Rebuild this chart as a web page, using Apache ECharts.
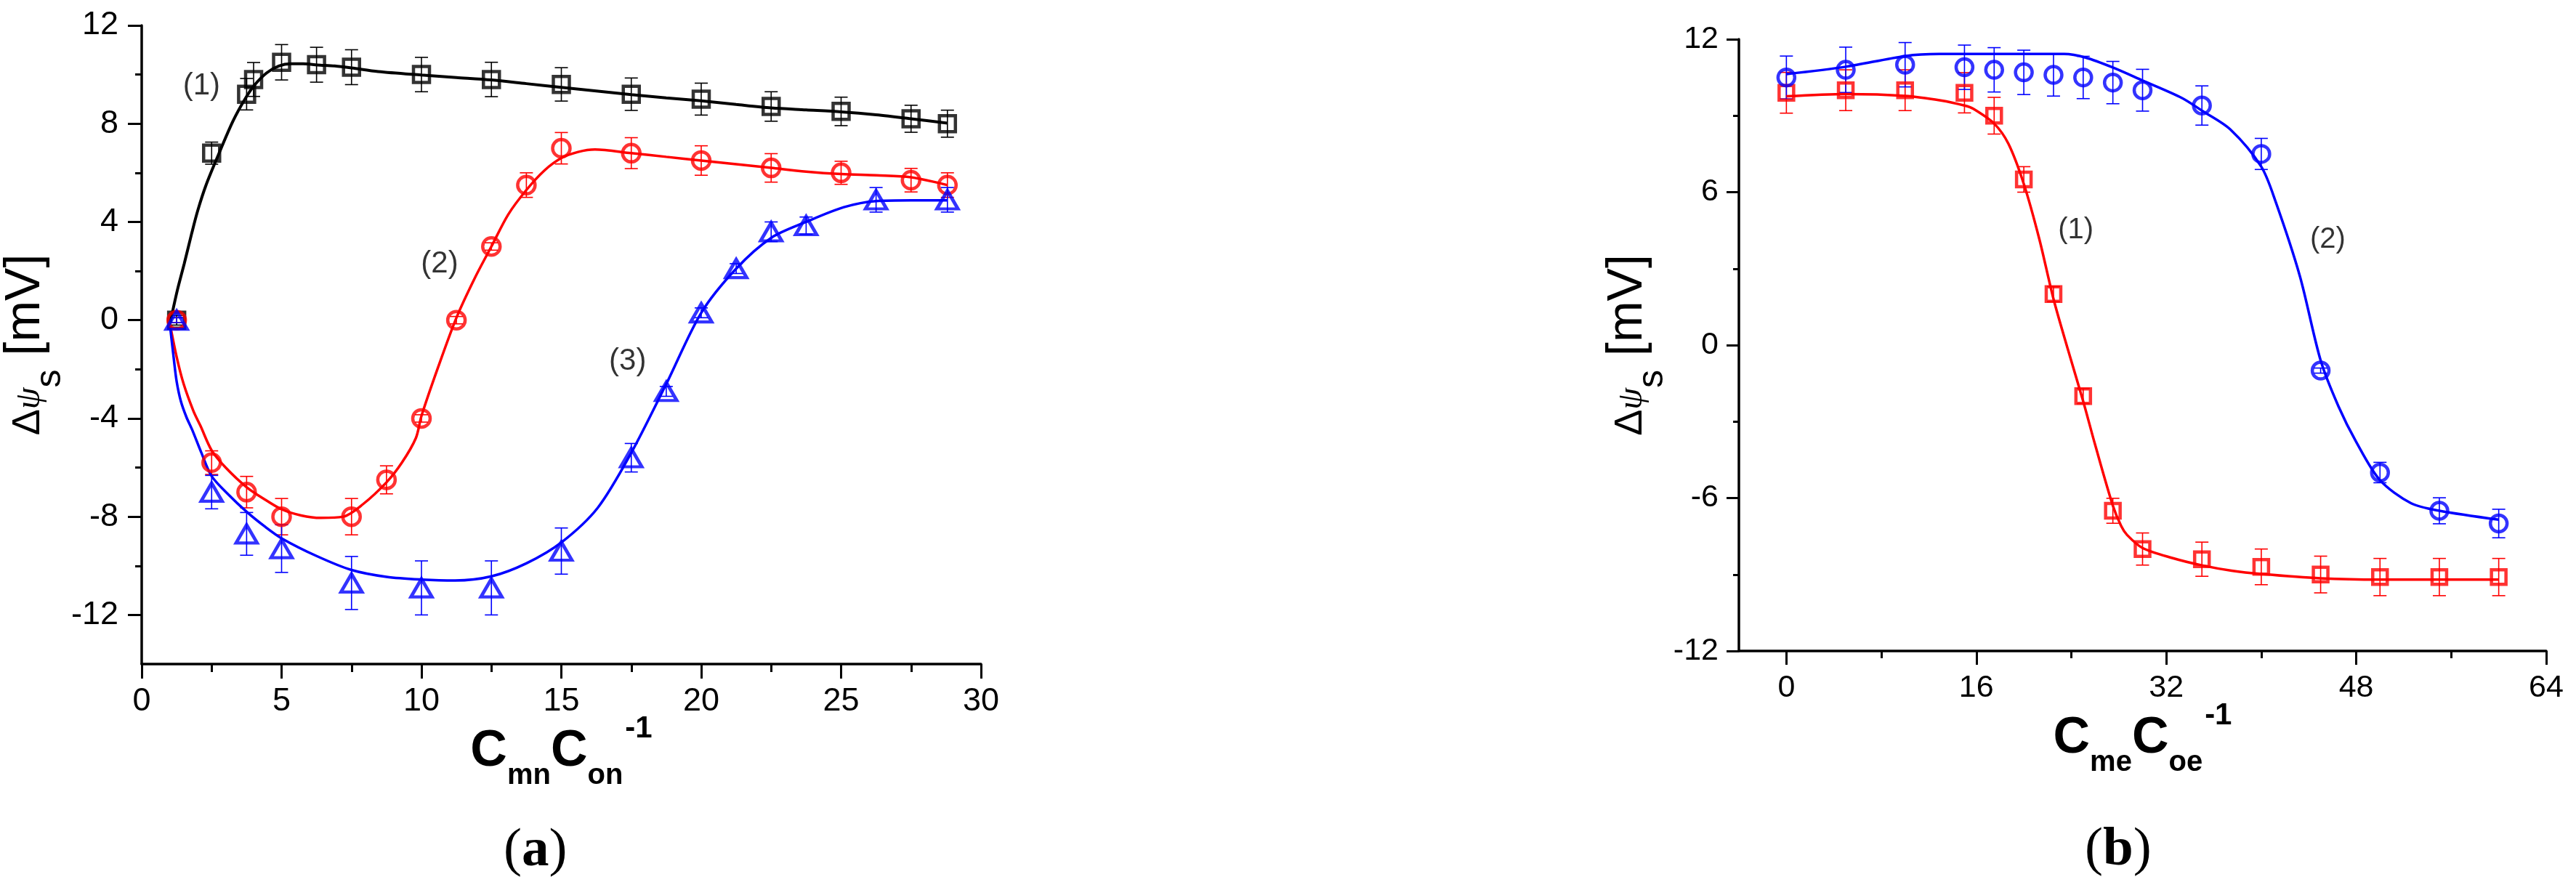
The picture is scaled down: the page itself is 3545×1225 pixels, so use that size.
<!DOCTYPE html>
<html>
<head>
<meta charset="utf-8">
<script src="https://cdn.jsdelivr.net/npm/echarts@6/dist/echarts.min.js"></script>
<style>
  html, body { margin: 0; padding: 0; background: #fff; }
  #chart { width: 3545px; height: 1225px; }
</style>
</head>
<body>
<div id="chart"></div>
<script>
// ---------- panel (a) : measured points ----------
const aX1 = [1.25, 2.5, 3.75, 4.0, 5.0, 6.25, 7.5, 10, 12.5, 15, 17.5, 20, 22.5, 25, 27.5, 28.8];
const aY1 = [0, 6.8, 9.2, 9.8, 10.5, 10.4, 10.3, 10.0, 9.8, 9.6, 9.2, 9.0, 8.7, 8.5, 8.2, 8.0];
const aE1 = [0.2, 0.45, 0.64, 0.69, 0.72, 0.71, 0.71, 0.7, 0.7, 0.68, 0.66, 0.65, 0.6, 0.58, 0.55, 0.55];

const aX2 = [1.25, 2.5, 3.75, 5.0, 7.5, 8.75, 10, 11.25, 12.5, 13.75, 15, 17.5, 20, 22.5, 25, 27.5, 28.8];
const aY2 = [0, -5.8, -7.0, -8.0, -8.0, -6.5, -4.0, 0, 3.0, 5.5, 7.0, 6.8, 6.5, 6.2, 6.0, 5.7, 5.5];
const aE2 = [0.1, 0.48, 0.64, 0.74, 0.74, 0.57, 0.15, 0.15, 0.15, 0.5, 0.64, 0.63, 0.6, 0.58, 0.47, 0.48, 0.5];

const aX3 = [1.25, 2.5, 3.75, 5.0, 7.5, 10, 12.5, 15, 17.5, 18.75, 20, 21.25, 22.5, 23.75, 26.25, 28.8];
const aY3 = [0, -7.0, -8.7, -9.3, -10.7, -10.9, -10.9, -9.4, -5.6, -2.9, 0.3, 2.1, 3.6, 3.85, 4.9, 4.9];
const aE3 = [0.1, 0.68, 0.87, 0.97, 1.08, 1.1, 1.1, 0.94, 0.58, 0.2, 0.2, 0.2, 0.4, 0.35, 0.5, 0.5];

// panel (a) : fitted curves
const aFitX1 = [1.0, 1.27, 1.52, 1.78, 2.0, 2.3, 2.74, 3.26, 3.69, 4.04, 4.47, 4.9, 5.33, 5.77, 6.29, 6.9, 7.5, 8.45, 10, 11.25, 12.5, 13.75, 15, 16.25, 17.5, 18.75, 20, 21.25, 22.5, 23.75, 25, 26.25, 27.5, 28.8];
const aFitY1 = [-0.2, 1.2, 2.3, 3.5, 4.45, 5.5, 6.73, 8.1, 9.0, 9.58, 10.07, 10.35, 10.44, 10.44, 10.39, 10.35, 10.27, 10.12, 9.98, 9.88, 9.78, 9.63, 9.48, 9.33, 9.18, 9.05, 8.93, 8.78, 8.64, 8.56, 8.48, 8.36, 8.2, 8.02];

const aFitX2 = [1.0, 1.25, 1.5, 1.85, 2.1, 2.5, 3.0, 3.75, 4.4, 5.0, 5.7, 6.4, 7.2, 7.9, 8.75, 9.3, 9.8, 10.0, 10.6, 11.25, 11.9, 12.5, 13.1, 13.75, 14.4, 15.0, 15.6, 16.2, 17.5, 18.75, 20, 21.25, 22.5, 23.75, 25, 26.25, 27.5, 28.8];
const aFitY2 = [-0.1, -1.5, -2.6, -3.7, -4.3, -5.3, -6.0, -6.8, -7.3, -7.7, -7.95, -8.05, -8.0, -7.5, -6.6, -5.8, -4.8, -3.9, -1.9, 0.1, 1.7, 3.0, 4.3, 5.3, 6.1, 6.6, 6.85, 6.95, 6.8, 6.65, 6.5, 6.35, 6.2, 6.05, 5.95, 5.9, 5.82, 5.5];

const aFitX3 = [1.0, 1.15, 1.25, 1.4, 1.6, 1.8, 2.13, 2.5, 3.1, 3.75, 4.4, 5.0, 6.25, 7.5, 8.75, 10, 11.2, 12.5, 13.75, 15, 16.3, 17.5, 18.75, 20, 21.25, 22.5, 23.75, 25.1, 26.25, 27.5, 28.8];
const aFitY3 = [-0.1, -1.6, -2.5, -3.3, -3.95, -4.45, -5.39, -6.35, -7.1, -7.8, -8.4, -8.88, -9.6, -10.17, -10.45, -10.56, -10.6, -10.43, -9.9, -9.05, -7.64, -5.4, -2.6, 0.3, 2.1, 3.35, 4.0, 4.6, 4.85, 4.88, 4.88];

// ---------- panel (b) ----------
const bX1 = [0, 5, 10, 15, 17.5, 20, 22.5, 25, 27.5, 30, 35, 40, 45, 50, 55, 60];
const bY1 = [9.9, 10.0, 10.0, 9.9, 9.0, 6.5, 2.0, -2.0, -6.5, -8.0, -8.4, -8.7, -9.0, -9.1, -9.1, -9.1];
const bE1 = [0.8, 0.8, 0.8, 0.79, 0.72, 0.5, 0.3, 0.3, 0.49, 0.63, 0.67, 0.7, 0.72, 0.73, 0.73, 0.73];

const bX2 = [0, 5, 10, 15, 17.5, 20, 22.5, 25, 27.5, 30, 35, 40, 45, 50, 55, 60];
const bY2 = [10.5, 10.8, 11.0, 10.9, 10.8, 10.7, 10.6, 10.5, 10.3, 10.0, 9.4, 7.5, -1.0, -5.0, -6.5, -7.0];
const bE2 = [0.84, 0.89, 0.87, 0.87, 0.87, 0.87, 0.83, 0.83, 0.83, 0.82, 0.77, 0.61, 0.1, 0.4, 0.51, 0.56];

const bFitX1 = [0, 5, 10, 13, 15, 15.75, 17.5, 18.7, 20, 21.3, 22.5, 23.7, 25, 26, 27.5, 28.2, 28.7, 30, 32.5, 35, 37.5, 40, 45, 50, 55, 60];
const bFitY1 = [9.76, 9.85, 9.78, 9.6, 9.4, 9.27, 8.69, 7.9, 6.32, 4.17, 1.81, -0.15, -2.2, -3.9, -6.3, -7.1, -7.45, -7.96, -8.35, -8.64, -8.85, -8.98, -9.15, -9.2, -9.2, -9.2];

const bFitX2 = [0, 5, 10, 12.9, 15.9, 20, 23.4, 25.2, 27.5, 30, 33.3, 35, 37.4, 40, 41.2, 43.25, 45, 46.5, 48, 50, 52.6, 55, 60];
const bFitY2 = [10.63, 10.92, 11.34, 11.42, 11.42, 11.42, 11.42, 11.28, 10.89, 10.38, 9.7, 9.2, 8.46, 7.0, 5.64, 2.71, -0.6, -2.4, -3.8, -5.3, -6.2, -6.5, -6.85];

// ---------- ticks and curve labels ----------
const aXRange = [0, 30];
const aYRange = [-14, 12];
const aYLabels = [-12, -8, -4, 0, 4, 8, 12];
const aYMinor = [-10, -6, -2, 2, 6, 10];
const bXRange = [-4, 64];
const bYRange = [-12, 12];
const bXLabels = [0, 16, 32, 48, 64];
const bXMinor = [8, 24, 40, 56];

const aTagX = [2.14, 10.65, 17.37];
const aTagY = [9.52, 2.28, -1.68];
const aTagText = ['(1)', '(2)', '(3)'];
const bTagX = [24.38, 45.6];
const bTagY = [4.51, 4.12];
const bTagText = ['(1)', '(2)'];

const SANS = '"Liberation Sans", Arial, sans-serif';
const SERIF = '"Liberation Serif", "Times New Roman", serif';
const RED = '#ff0000';
const BLUE = '#0000ff';
const BLACK = '#000000';

const zip = (xs, ys) => xs.map((x, i) => [x, ys[i]]);
const zip3 = (xs, ys, es) => xs.map((x, i) => [x, ys[i], es[i]]);

// sub/superscripts are shifted with asymmetric padding (token stays centred in the line)
function xName() {
  return {
    rich: {
      c: { fontFamily: SANS, fontSize: 70, fontWeight: 'bold', color: BLACK },
      s: { fontFamily: SANS, fontSize: 40, fontWeight: 'bold', color: BLACK, padding: [66, 0, 0, 0] },
      p: { fontFamily: SANS, fontSize: 42, fontWeight: 'bold', color: BLACK, padding: [0, 0, 64, 3] }
    }
  };
}

function yName() {
  return {
    rich: {
      d: { fontFamily: SANS, fontSize: 54, color: BLACK, padding: [9, 0, 0, 0] },
      g: { fontFamily: SERIF, fontSize: 48, fontStyle: 'italic', color: BLACK, padding: [13, 0, 0, 0] },
      s: { fontFamily: SANS, fontSize: 50, color: BLACK, padding: [68, 0, 0, 0] },
      m: { fontFamily: SANS, fontSize: 68, color: BLACK }
    }
  };
}

function errorBars(xs, ys, es, color, xi) {
  return {
    type: 'custom',
    xAxisIndex: xi,
    yAxisIndex: xi,
    z: 2,
    silent: true,
    encode: { x: 0, y: 1 },
    data: zip3(xs, ys, es),
    renderItem: function (params, api) {
      const x = api.value(0);
      const y = api.value(1);
      const e = api.value(2);
      const hi = api.coord([x, y + e]);
      const lo = api.coord([x, y - e]);
      const w = 9;
      const style = { stroke: color, lineWidth: 1.6 };
      return {
        type: 'group',
        children: [
          { type: 'line', shape: { x1: hi[0], y1: hi[1], x2: lo[0], y2: lo[1] }, style: style },
          { type: 'line', shape: { x1: hi[0] - w, y1: hi[1], x2: hi[0] + w, y2: hi[1] }, style: style },
          { type: 'line', shape: { x1: lo[0] - w, y1: lo[1], x2: lo[0] + w, y2: lo[1] }, style: style }
        ]
      };
    }
  };
}

function markers(xs, ys, color, symbol, size, xi) {
  return {
    type: 'scatter',
    xAxisIndex: xi,
    yAxisIndex: xi,
    z: 4,
    silent: true,
    symbol: symbol,
    symbolSize: size,
    itemStyle: { color: 'rgba(0,0,0,0)', borderColor: color, borderWidth: 4.5 },
    data: zip(xs, ys)
  };
}

function curve(xs, ys, color, width, xi) {
  return {
    type: 'line',
    xAxisIndex: xi,
    yAxisIndex: xi,
    z: 3,
    silent: true,
    smooth: 0.3,
    showSymbol: false,
    lineStyle: { color: color, width: width },
    data: zip(xs, ys)
  };
}

function tags(xs, ys, texts, size, xi) {
  return {
    type: 'scatter',
    xAxisIndex: xi,
    yAxisIndex: xi,
    z: 5,
    silent: true,
    symbolSize: 1,
    itemStyle: { color: 'rgba(0,0,0,0)' },
    label: {
      show: true,
      position: 'inside',
      formatter: p => p.name,
      fontFamily: SANS,
      fontSize: size,
      color: BLACK
    },
    data: xs.map((x, i) => ({ value: [x, ys[i]], name: texts[i] }))
  };
}

const axisLine = { show: true, onZero: false, lineStyle: { color: BLACK, width: 3.5 } };

const chart = echarts.init(document.getElementById('chart'));

const option = {
  backgroundColor: '#ffffff',
  animation: false,
  grid: [
    { left: 195, top: 35, width: 1155, height: 879 },
    { left: 2393, top: 54, width: 1111, height: 842 }
  ],
  xAxis: [
    {
      type: 'value', gridIndex: 0, position: 'bottom',
      min: aXRange[0], max: aXRange[1], interval: 5,
      axisLine: axisLine,
      axisTick: { show: true, length: 20, lineStyle: { color: BLACK, width: 3 } },
      minorTick: { show: true, splitNumber: 2, length: 11, lineStyle: { color: BLACK, width: 3 } },
      axisLabel: { fontFamily: SANS, fontSize: 45, color: BLACK, margin: 29 },
      splitLine: { show: false },
      name: '{c|C}{s|mn}{c|C}{s|on}{p|-1}',
      nameLocation: 'middle', nameGap: 68, nameMoveOverlap: false,
      nameTextStyle: xName()
    },
    {
      type: 'value', gridIndex: 1, position: 'bottom',
      min: bXRange[0], max: bXRange[1],
      axisLine: axisLine,
      axisTick: { show: true, length: 19, customValues: bXLabels, lineStyle: { color: BLACK, width: 3 } },
      axisLabel: { fontFamily: SANS, fontSize: 43, color: BLACK, margin: 30, customValues: bXLabels },
      splitLine: { show: false },
      name: '{c|C}{s|me}{c|C}{s|oe}{p|-1}',
      nameLocation: 'middle', nameGap: 68, nameMoveOverlap: false,
      nameTextStyle: xName()
    },
    {
      type: 'value', gridIndex: 1, position: 'bottom',
      min: bXRange[0], max: bXRange[1],
      axisLine: { show: false, onZero: false },
      axisTick: { show: true, length: 10, customValues: bXMinor, lineStyle: { color: BLACK, width: 3 } },
      axisLabel: { show: false },
      splitLine: { show: false }
    }
  ],
  yAxis: [
    {
      type: 'value', gridIndex: 0, position: 'left',
      min: aYRange[0], max: aYRange[1],
      axisLine: axisLine,
      axisTick: { show: true, length: 19, customValues: aYLabels, lineStyle: { color: BLACK, width: 3 } },
      axisLabel: { fontFamily: SANS, fontSize: 45, color: BLACK, margin: 32, customValues: aYLabels },
      splitLine: { show: false },
      name: '{d|Δ}{g|ψ}{s|s}{m| [mV]}',
      nameLocation: 'middle', nameRotate: 90, nameGap: 93,
      nameTextStyle: yName()
    },
    {
      type: 'value', gridIndex: 1, position: 'left',
      min: bYRange[0], max: bYRange[1], interval: 6,
      axisLine: axisLine,
      axisTick: { show: true, length: 17, lineStyle: { color: BLACK, width: 3 } },
      minorTick: { show: true, splitNumber: 2, length: 8, lineStyle: { color: BLACK, width: 3 } },
      axisLabel: { fontFamily: SANS, fontSize: 43, color: BLACK, margin: 28 },
      splitLine: { show: false },
      name: '{d|Δ}{g|ψ}{s|s}{m| [mV]}',
      nameLocation: 'middle', nameRotate: 90, nameGap: 82,
      nameTextStyle: yName()
    },
    {
      type: 'value', gridIndex: 0, position: 'left',
      min: aYRange[0], max: aYRange[1],
      axisLine: { show: false, onZero: false },
      axisTick: { show: true, length: 9, customValues: aYMinor, lineStyle: { color: BLACK, width: 3 } },
      axisLabel: { show: false },
      splitLine: { show: false }
    }
  ],
  graphic: [
    {
      type: 'text', left: 738 - 45, top: 1174 - 40,
      style: {
        text: '{p|(}{b|a}{p|)}',
        rich: {
          p: { fontFamily: SERIF, fontSize: 75, color: BLACK },
          b: { fontFamily: SERIF, fontSize: 75, fontWeight: 'bold', color: BLACK }
        }
      }
    },
    {
      type: 'text', left: 2916 - 47, top: 1173 - 40,
      style: {
        text: '{p|(}{b|b}{p|)}',
        rich: {
          p: { fontFamily: SERIF, fontSize: 75, color: BLACK },
          b: { fontFamily: SERIF, fontSize: 75, fontWeight: 'bold', color: BLACK }
        }
      }
    }
  ],
  series: [
    errorBars(aX1, aY1, aE1, BLACK, 0),
    errorBars(aX2, aY2, aE2, RED, 0),
    errorBars(aX3, aY3, aE3, BLUE, 0),
    markers(aX1, aY1, BLACK, 'rect', 22, 0),
    markers(aX2, aY2, RED, 'circle', 24, 0),
    markers(aX3, aY3, BLUE, 'triangle', [29, 25], 0),
    curve(aFitX1, aFitY1, BLACK, 4, 0),
    curve(aFitX2, aFitY2, RED, 3.5, 0),
    curve(aFitX3, aFitY3, BLUE, 3.5, 0),
    tags(aTagX, aTagY, aTagText, 42, 0),

    errorBars(bX1, bY1, bE1, RED, 1),
    errorBars(bX2, bY2, bE2, BLUE, 1),
    markers(bX1, bY1, RED, 'rect', 20, 1),
    markers(bX2, bY2, BLUE, 'circle', 23, 1),
    curve(bFitX1, bFitY1, RED, 3.5, 1),
    curve(bFitX2, bFitY2, BLUE, 3.5, 1),
    tags(bTagX, bTagY, bTagText, 40, 1)
  ]
};

chart.setOption(option);
</script>
</body>
</html>
